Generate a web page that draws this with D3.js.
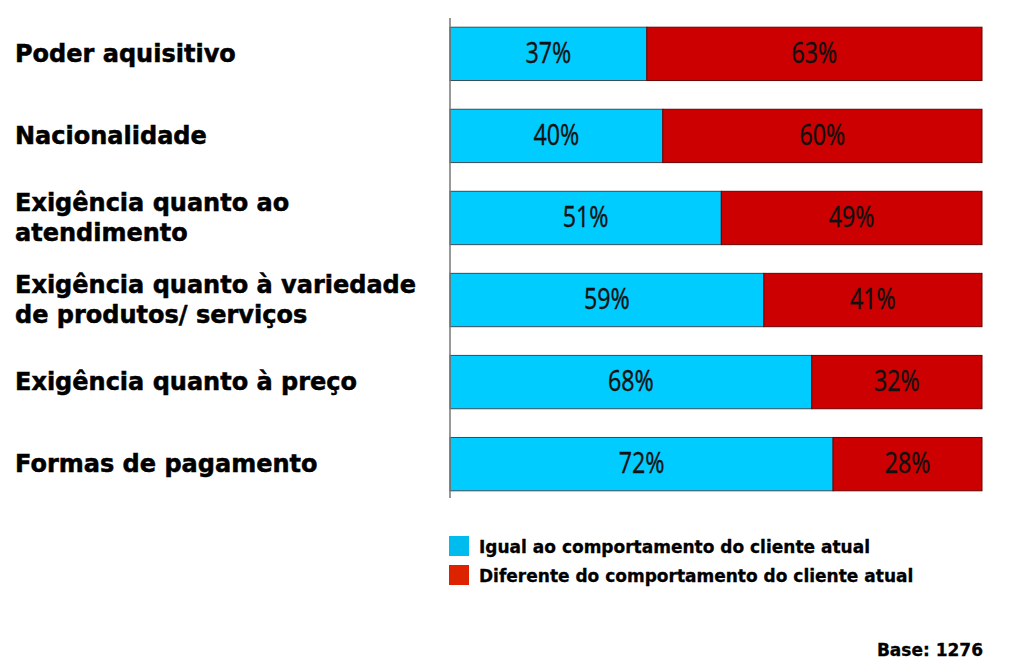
<!DOCTYPE html>
<html>
<head>
<meta charset="utf-8">
<script src="https://cdn.jsdelivr.net/npm/d3@7"></script>
<style>
  html, body { margin: 0; padding: 0; background: #fff; }
  svg { display: block; }
</style>
</head>
<body>
<svg id="chart" width="1023" height="665"></svg>
<script>
// ---- data ----
const categories = [
  ["Poder aquisitivo"],
  ["Nacionalidade"],
  ["Exigência quanto ao", "atendimento"],
  ["Exigência quanto à variedade", "de produtos/ serviços"],
  ["Exigência quanto à preço"],
  ["Formas de pagamento"]
];
const igual = [37, 40, 51, 59, 68, 72];
const diferente = [63, 60, 49, 41, 32, 28];
const seriesNames = ["Igual ao comportamento do cliente atual", "Diferente do comportamento do cliente atual"];
const baseNote = "Base: 1276";

// ---- layout ----
const W = 1023, H = 665;
const plot = { left: 450, right: 982, top: 18, bottom: 498 };
const colors = ["#00CCFF", "#CC0000"];
const legendColors = ["#00BBEE", "#DD2200"];
const labelFont = "'DejaVu Sans', Verdana, sans-serif";
const numFont = "'Open Sans', 'Noto Sans', sans-serif";

const svg = d3.select("#chart");

const keys = categories.map((c, i) => i);
const y = d3.scaleBand().domain(keys).range([plot.top + 1, plot.bottom + 1]).paddingInner(0.35).paddingOuter(0.1);
const x = d3.scaleLinear().domain([0, 100]).range([plot.left, plot.right]);

const rows = keys.map(i => ({ i, igual: igual[i], diferente: diferente[i] }));
const stack = d3.stack().keys(["igual", "diferente"])(rows);

// bars
const g = svg.append("g");
stack.forEach((layer, li) => {
  g.selectAll(null).data(layer).enter().append("rect")
    .attr("x", d => x(d[0]))
    .attr("y", d => y(d.data.i))
    .attr("width", d => x(d[1]) - x(d[0]))
    .attr("height", y.bandwidth())
    .attr("fill", colors[li])
    .attr("stroke", li === 0 ? "#3a4a55" : "#6a0000")
    .attr("stroke-width", 1);
  g.selectAll(null).data(layer).enter().append("text")
    .attr("transform", d => `translate(${(x(d[0]) + x(d[1])) / 2},${y(d.data.i) + y.bandwidth() / 2 - 2}) scale(0.8,1)`)
    .attr("dominant-baseline", "central")
    .attr("text-anchor", "middle")
    .attr("font-family", numFont)
    .attr("font-size", 29)
    .attr("fill", "#111")
    .attr("stroke", "#111")
    .attr("stroke-width", 0.4)
    .text(d => (d[1] - d[0]) + "%");
});

// axis line (vertical)
const yAxis = d3.axisLeft(y).tickSize(0).tickFormat("");
svg.append("g")
  .attr("transform", `translate(${plot.left},0)`)
  .call(yAxis)
  .call(a => a.select(".domain").attr("d", `M0,${plot.top}V${plot.bottom}`).attr("stroke", "#777").attr("stroke-width", 1.5));

// category labels
const lineH = 30;
categories.forEach((lines, i) => {
  const cy = y(i) + y.bandwidth() / 2;
  const t = svg.append("text")
    .attr("x", 15)
    .attr("font-family", labelFont)
    .attr("font-weight", "bold")
    .attr("font-size", 24)
    .attr("fill", "#000")
    .attr("stroke", "#000")
    .attr("stroke-width", 0.5);
  lines.forEach((ln, k) => {
    t.append("tspan")
      .attr("x", 15)
      .attr("y", cy - (lines.length - 1) * lineH / 2 + k * lineH)
      .attr("dominant-baseline", "central")
      .text(ln);
  });
});

// legend
const lg = svg.append("g").attr("transform", "translate(449,536)");
seriesNames.forEach((name, k) => {
  lg.append("rect").attr("x", 0).attr("y", k * 29).attr("width", 20).attr("height", 20).attr("fill", legendColors[k]);
  lg.append("text").attr("x", 30).attr("y", k * 29 + 11)
    .attr("dominant-baseline", "central")
    .attr("font-family", labelFont).attr("font-weight", "bold").attr("font-size", 17)
    .attr("stroke", "#000").attr("stroke-width", 0.3)
    .attr("fill", "#000").text(name);
});

// base note
svg.append("text")
  .attr("x", 983).attr("y", 650)
  .attr("text-anchor", "end").attr("dominant-baseline", "central")
  .attr("font-family", labelFont).attr("font-weight", "bold").attr("font-size", 17)
  .attr("stroke", "#000").attr("stroke-width", 0.3)
  .attr("fill", "#000").text(baseNote);
</script>
</body>
</html>
